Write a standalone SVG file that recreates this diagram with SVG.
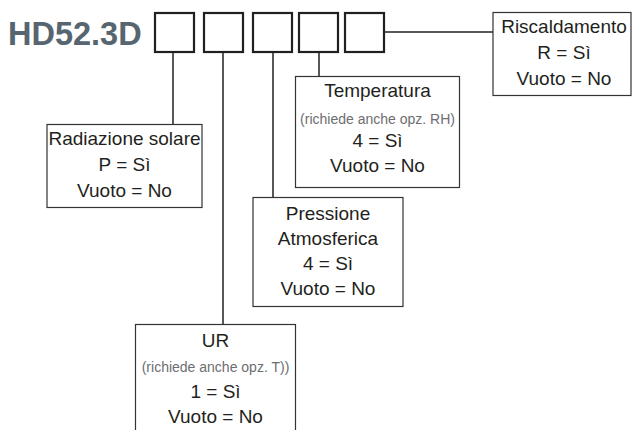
<svg xmlns="http://www.w3.org/2000/svg" width="641" height="430" viewBox="0 0 641 430">
<style>
.t{font-family:"Liberation Sans",Arial,sans-serif;font-size:19px;fill:#231f20;text-anchor:middle}
.s{font-family:"Liberation Sans",Arial,sans-serif;font-size:14px;fill:#6d6e71;text-anchor:middle}
.box{fill:#fff;stroke:#333;stroke-width:1.2}
.code{fill:#fff;stroke:#231f20;stroke-width:2.2}
.ln{fill:none;stroke:#231f20;stroke-width:1.5}
</style>
<rect width="641" height="430" fill="#fff"/>
<g id="title">
<text x="8" y="45" font-family="Liberation Sans,Arial,sans-serif" font-size="32.5" font-weight="bold" fill="#56656f">HD52.3D</text>
</g>
<g id="code-boxes">
<rect class="code" x="155" y="13" width="39" height="39"/>
<rect class="code" x="204" y="13" width="39" height="39"/>
<rect class="code" x="253" y="13" width="39" height="39"/>
<rect class="code" x="299" y="13" width="39" height="39"/>
<rect class="code" x="345" y="13" width="39" height="39"/>
</g>
<g id="connectors">
<line class="ln" x1="173" y1="53" x2="173" y2="124"/>
<line class="ln" x1="223" y1="53" x2="223" y2="324"/>
<line class="ln" x1="273" y1="53" x2="273" y2="197"/>
<line class="ln" x1="319" y1="53" x2="319" y2="76"/>
<line class="ln" x1="385" y1="32" x2="493" y2="32"/>
</g>
<g id="riscaldamento">
<rect class="box" x="493" y="12.5" width="138" height="83"/>
<text class="t" x="564" y="33">Riscaldamento</text>
<text class="t" x="564" y="59">R = Sì</text>
<text class="t" x="564" y="85">Vuoto = No</text>
</g>
<g id="radiazione">
<rect class="box" x="47" y="124.5" width="155" height="83"/>
<text class="t" x="124.5" y="145">Radiazione solare</text>
<text class="t" x="124.5" y="171">P = Sì</text>
<text class="t" x="124.5" y="197">Vuoto = No</text>
</g>
<g id="temperatura">
<rect class="box" x="295.5" y="76.5" width="164" height="111"/>
<text class="t" x="377.5" y="97">Temperatura</text>
<text class="s" x="377.5" y="124">(richiede anche opz. RH)</text>
<text class="t" x="377.5" y="147">4 = Sì</text>
<text class="t" x="377.5" y="172">Vuoto = No</text>
</g>
<g id="pressione">
<rect class="box" x="253" y="197.5" width="150" height="109"/>
<text class="t" x="328" y="220">Pressione</text>
<text class="t" x="328" y="245">Atmosferica</text>
<text class="t" x="328" y="270">4 = Sì</text>
<text class="t" x="328" y="295">Vuoto = No</text>
</g>
<g id="ur">
<rect class="box" x="135.5" y="324.5" width="160" height="115"/>
<text class="t" x="215.5" y="347">UR</text>
<text class="s" x="215.5" y="372">(richiede anche opz. T))</text>
<text class="t" x="215.5" y="398">1 = Sì</text>
<text class="t" x="215.5" y="423">Vuoto = No</text>
</g>
</svg>
